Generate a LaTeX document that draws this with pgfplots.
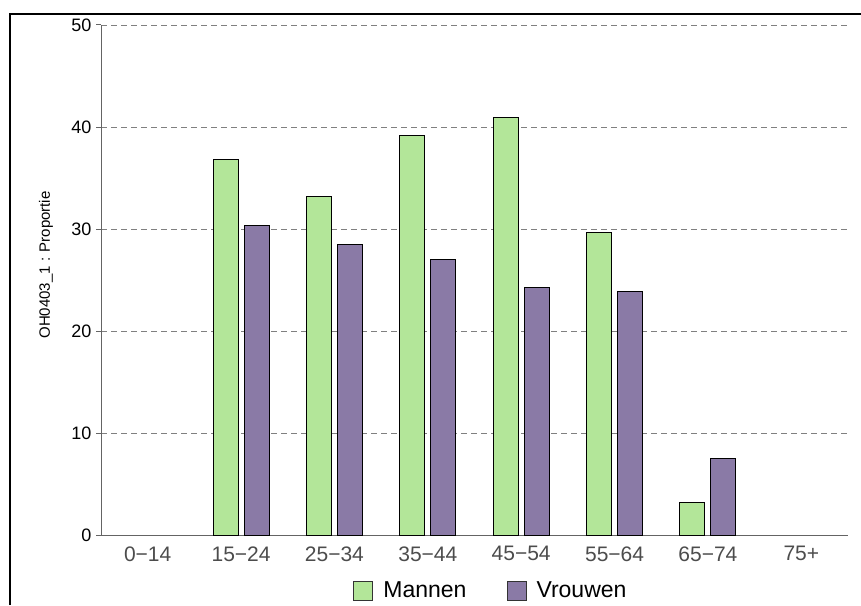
\documentclass[border=0pt]{standalone}
\usepackage{pgfplots}
\pgfplotsset{compat=1.18}
\usepackage{fontspec}
\setmainfont{Liberation Sans}
\definecolor{mgreen}{RGB}{179,230,153}
\definecolor{vpurple}{RGB}{138,122,166}
\definecolor{axgray}{RGB}{100,100,100}
\begin{document}
\begin{tikzpicture}
\path[use as bounding box] (0pt,0pt) rectangle (861pt,605pt);
\draw[line width=2.5pt] (10pt,0pt) -- (10pt,591pt) -- (861pt,591pt);
\begin{axis}[
  at={(101pt,70pt)}, anchor=south west,
  scale only axis, width=747pt, height=510pt,
  ybar=6pt, bar width=25pt,
  xmin=-0.5, xmax=7.5, ymin=0, ymax=50,
  xtick={0,1,2,3,4,5,6,7},
  xticklabels={0−14,15−24,25−34,35−44,45−54,55−64,65−74,75+},
  ytick={0,10,20,30,40,50},
  axis x line*=bottom, axis y line*=left,
  axis line style={axgray, line width=1pt},
  x axis line style={-}, y axis line style={-},
  major x tick style={draw=none},
  major y tick style={axgray, line width=1pt},
  major tick length=5pt,
  tick align=outside,
  ymajorgrids,
  grid style={gray, line width=0.8pt, dash pattern=on 6pt off 4pt},
  /pgf/number format/assume math mode=true,
  yticklabel style={font=\fontsize{18}{18}\selectfont, xshift=-1pt},
  xticklabel style={font=\fontsize{21}{21}\selectfont, text=black!70, yshift=-3pt},
  ylabel={OH0403\_1 : Proportie},
  ylabel style={font=\fontsize{15}{15}\selectfont, at={(rel axis cs:0,0.5)}, anchor=center, yshift=55pt, xshift=15pt},
  legend columns=2,
  legend style={at={(0.522,-0.108)}, anchor=center, draw=none, fill=none,
    font=\fontsize{23}{23}\selectfont,
    /tikz/every odd column/.append style={column sep=8pt},
    /tikz/every even column/.append style={column sep=38pt}},
  legend image code/.code={\draw[#1, draw=black!80] (0pt,-10pt) rectangle (19pt,9pt);},
]
\addplot[fill=mgreen, draw=black, line width=1pt] coordinates {
  (1,36.8) (2,33.2) (3,39.2) (4,40.9) (5,29.7) (6,3.2)
};
\addplot[fill=vpurple, draw=black, line width=1pt] coordinates {
  (1,30.3) (2,28.5) (3,27.0) (4,24.3) (5,23.9) (6,7.5)
};
\legend{Mannen,Vrouwen}
\end{axis}
\end{tikzpicture}
\end{document}
